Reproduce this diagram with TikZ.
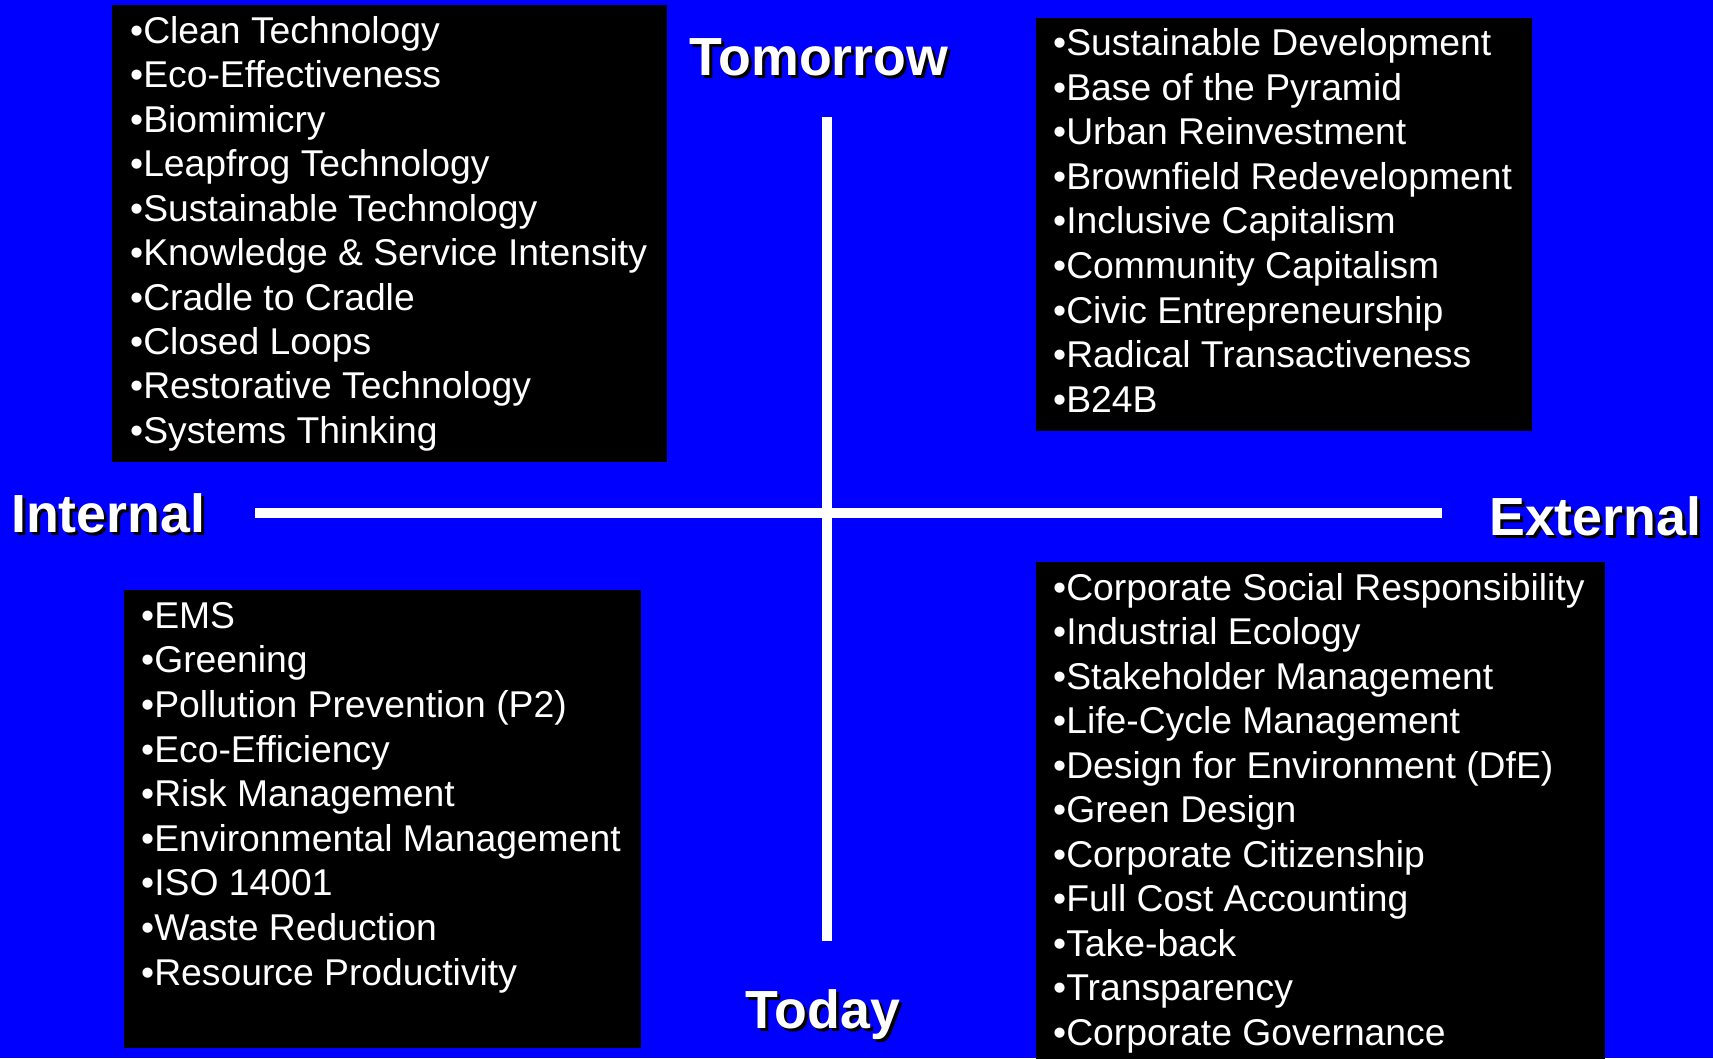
\documentclass[tikz,border=0pt]{standalone}
\usepackage{fontspec}
\setmainfont{Liberation Sans}
\definecolor{bgblue}{RGB}{0,0,255}
\begin{document}
\begin{tikzpicture}[x=1pt,y=-1pt,
  blackbox/.style={fill=black, draw=none, inner sep=0pt, anchor=north west},
  item/.style={anchor=base west, inner sep=0pt, text=white, font=\fontsize{37.3}{44}\selectfont},
  axisline/.style={draw=white, line width=10.5pt},
  ttl/.style={inner sep=0pt, text=white, font=\fontsize{53.7}{60}\selectfont\bfseries},
  ttlshadow/.style={inner sep=0pt, text=black, font=\fontsize{53.7}{60}\selectfont\bfseries},
]
\useasboundingbox (0,0) rectangle (1713,1058);
\fill[bgblue] (0,0) rectangle (1713,1058);

% black boxes
\node[blackbox, minimum width=555pt, minimum height=457pt] (boxTL) at (112,5) {};
\node[blackbox, minimum width=496.5pt, minimum height=413pt] (boxTR) at (1035.5,18) {};
\node[blackbox, minimum width=517.5pt, minimum height=457.5pt] (boxBL) at (123.5,590) {};
\node[blackbox, minimum width=569pt, minimum height=497pt] (boxBR) at (1035.5,561.5) {};

% axes
\coordinate (axL) at (255,513);
\coordinate (axR) at (1442,513);
\coordinate (axT) at (827,117);
\coordinate (axB) at (827,941);
\draw[axisline] (axL) -- (axR);
\draw[axisline] (axT) -- (axB);

% titles with shadow
\node[ttlshadow, anchor=base] (tomorrowS) at (822,78) {Tomorrow};
\node[ttl, anchor=base] (tomorrow) at (819,75) {Tomorrow};
\node[ttlshadow, anchor=base west] (internalS) at (14,535) {Internal};
\node[ttl, anchor=base west] (internal) at (11,532) {Internal};
\node[ttlshadow, anchor=base west] (externalS) at (1492,538.5) {External};
\node[ttl, anchor=base west] (external) at (1489,535.5) {External};
\node[ttlshadow, anchor=base] (todayS) at (826,1031) {Today};
\node[ttl, anchor=base] (today) at (823,1028) {Today};

% top-left list
\foreach \t [count=\i from 0] in {Clean Technology, Eco-Effectiveness, Biomimicry, Leapfrog Technology, Sustainable Technology, Knowledge \& Service Intensity, Cradle to Cradle, Closed Loops, Restorative Technology, Systems Thinking}
  \node[item] (tl\i) at (130,43.3+44.45*\i) {•\t};

% top-right list
\foreach \t [count=\i from 0] in {Sustainable Development, Base of the Pyramid, Urban Reinvestment, Brownfield Redevelopment, Inclusive Capitalism, Community Capitalism, Civic Entrepreneurship, Radical Transactiveness, B24B}
  \node[item] (tr\i) at (1053,55.4+44.6*\i) {•\t};

% bottom-left list
\foreach \t [count=\i from 0] in {EMS, Greening, Pollution Prevention (P2), Eco-Efficiency, Risk Management, Environmental Management, ISO 14001, Waste Reduction, Resource Productivity}
  \node[item] (bl\i) at (141,628.3+44.6*\i) {•\t};

% bottom-right list
\foreach \t [count=\i from 0] in {Corporate Social Responsibility, Industrial Ecology, Stakeholder Management, Life-Cycle Management, Design for Environment (DfE), Green Design, Corporate Citizenship, Full Cost Accounting, Take-back, Transparency, Corporate Governance}
  \node[item] (br\i) at (1053,600+44.5*\i) {•\t};
\end{tikzpicture}
\end{document}
